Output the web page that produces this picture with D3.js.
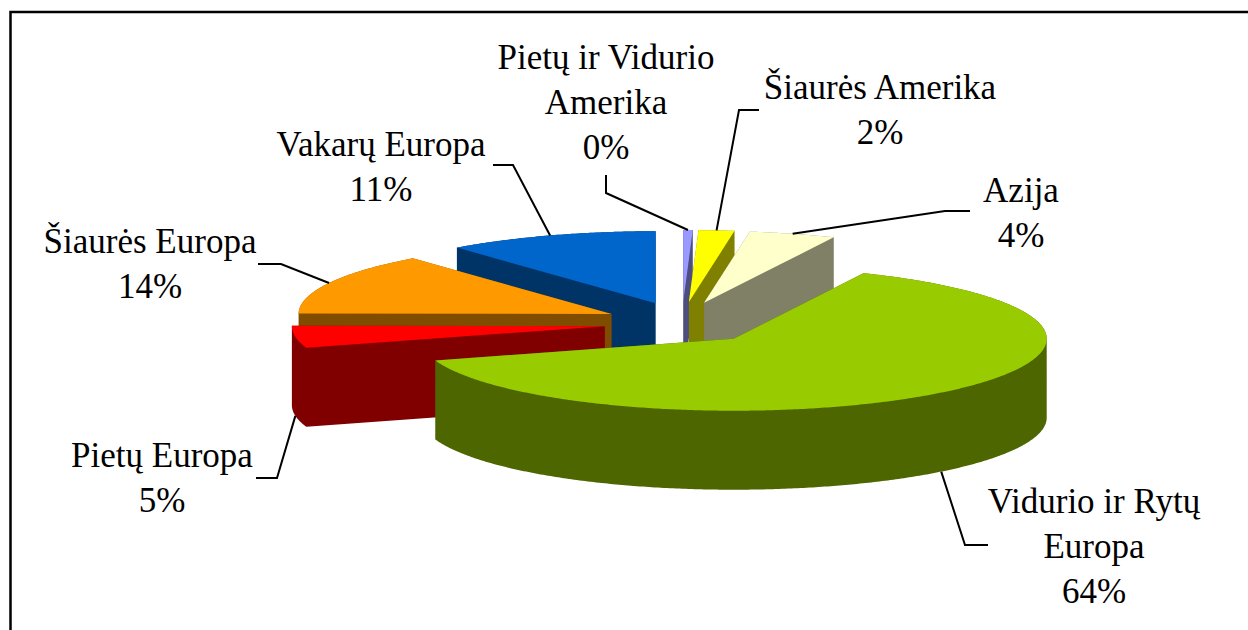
<!DOCTYPE html>
<html>
<head>
<meta charset="utf-8">
<script src="https://d3js.org/d3.v7.min.js"></script>
<style>html,body{margin:0;padding:0;background:#fff;overflow:hidden}svg{display:block}</style>
</head>
<body>
<div id="chart"></div>
<script>
// Clockwise from 12 o'clock, as the pie is laid out
const categories = ["Pietų ir Vidurio Amerika", "Šiaurės Amerika", "Azija", "Vidurio ir Rytų Europa", "Pietų Europa", "Šiaurės Europa", "Vakarų Europa"];
const labelLines = [["Pietų ir Vidurio", "Amerika"], ["Šiaurės Amerika"], ["Azija"], ["Vidurio ir Rytų", "Europa"], ["Pietų Europa"], ["Šiaurės Europa"], ["Vakarų Europa"]];
const values = [0.49, 1.85, 4.49, 63.6, 5, 14, 11];
const topColors = ["#9999ff", "#ffff00", "#ffffcc", "#99cc00", "#ff0000", "#ff9900", "#0066cc"];
const wallColors = ["#4d4d80", "#808000", "#808066", "#4d6600", "#800000", "#804d00", "#003366"];
// Label layout: text centre, first baseline, leader points before the slice anchor
const labelX = [606, 880, 1021, 1094, 162, 150, 381];
const labelY = [69, 99, 202, 513, 467, 253, 156];
const leaderBends = [
  [[606, 175], [606, 193]],
  [[759, 110], [739, 110]],
  [[970, 211], [945, 211]],
  [[988, 545], [965, 545]],
  [[256, 478], [277, 478]],
  [[258, 264], [281, 264]],
  [[493, 165], [513, 165]]
];
const leaderOnWall = [false, false, false, true, true, false, false];
const paintOrder = [6, 0, 1, 2, 5, 4, 3];

const W = 1248, H = 630;
const cx = 682, cy = 323, rx = 313, ry = 72, depth = 79, explodeX = 78, explodeY = 21;
const fontSize = 35, lineGap = 45;

const svg = d3.select("#chart").append("svg").attr("width", W).attr("height", H);
svg.append("rect").attr("width", W).attr("height", H).attr("fill", "#fff");

const frame = d3.line();
svg.append("path").attr("d", frame([[10.5, H], [10.5, 12], [W, 12]]))
  .attr("fill", "none").attr("stroke", "#000").attr("stroke-width", 2.5);

const arcs = d3.pie().sort(null).startAngle(0).endAngle(2 * Math.PI)(values);
const slices = arcs.map((a, i) => {
  const mid = (a.startAngle + a.endAngle) / 2;
  const ax = cx + explodeX * Math.sin(mid), ay = cy - explodeY * Math.cos(mid);
  const rim = t => [ax + rx * Math.sin(t), ay - ry * Math.cos(t)];
  const n = Math.max(2, Math.ceil((a.endAngle - a.startAngle) / 0.01));
  const pts = [[ax, ay]].concat(d3.range(n + 1).map(k => rim(a.startAngle + (a.endAngle - a.startAngle) * k / n)));
  return {i, mid, pts, anchor: rim(mid)};
});

const line = d3.line();
const orient = poly => d3.polygonArea(poly) < 0 ? poly.slice().reverse() : poly;
const g = svg.append("g");
paintOrder.forEach(i => {
  const s = slices[i];
  const quads = s.pts.map((p, k) => {
    const q = s.pts[(k + 1) % s.pts.length];
    return line(orient([p, q, [q[0], q[1] + depth], [p[0], p[1] + depth]])) + "Z";
  });
  const floor = line(orient(s.pts.map(p => [p[0], p[1] + depth]))) + "Z";
  g.append("path").attr("d", quads.join("") + floor).attr("fill", wallColors[i]);
  g.append("path").attr("d", line(s.pts) + "Z").attr("fill", topColors[i]);
});

slices.forEach(s => {
  const end = [s.anchor[0], s.anchor[1] + (leaderOnWall[s.i] ? depth : 0)];
  svg.append("path").attr("d", line(leaderBends[s.i].concat([end])))
    .attr("fill", "none").attr("stroke", "#000").attr("stroke-width", 2);
});

categories.forEach((c, i) => {
  const lines = labelLines[i].concat([Math.round(values[i]) + "%"]);
  svg.append("text").attr("text-anchor", "middle")
    .attr("font-family", "'Liberation Serif', serif").attr("font-size", fontSize).attr("fill", "#000")
    .selectAll("tspan").data(lines).join("tspan")
    .attr("x", labelX[i]).attr("y", (d, k) => labelY[i] + k * lineGap).text(d => d);
});
</script>
</body>
</html>
